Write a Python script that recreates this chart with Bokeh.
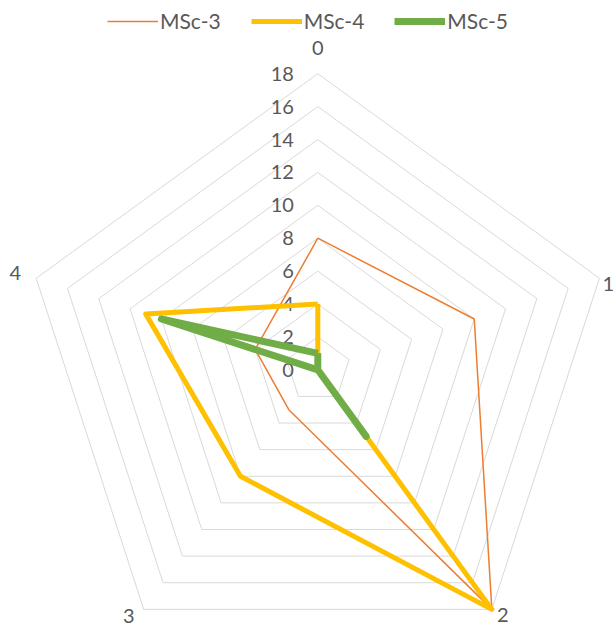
import math
from bokeh.plotting import figure
from bokeh.models import Range1d, Legend, LegendItem
from bokeh.core.properties import value
from bokeh.embed import file_html
from bokeh.resources import INLINE

categories = ["0", "1", "2", "3", "4"]
series_names = ["MSc-3", "MSc-4", "MSc-5"]
msc3 = [8, 10, 18, 3, 4]
msc4 = [4, 0, 18, 8, 11]
msc5 = [1, 0, 5, 0, 10]
ticks = [0, 2, 4, 6, 8, 10, 12, 14, 16, 18]
r_max = 18

FONT = "Lato"
TXT = "#595959"
W, H = 615, 628
PX = 16.45  # pixels per unit
cx_px, cy_px = 317.3, 369.3

n = len(categories)
ang = [math.pi / 2 - 2 * math.pi * k / n for k in range(n)]


def to_xy(vals):
    xs = [v * math.cos(a) for v, a in zip(vals, ang)]
    ys = [v * math.sin(a) for v, a in zip(vals, ang)]
    return xs + xs[:1], ys + ys[:1]


p = figure(width=W, height=H, output_backend="svg", toolbar_location=None,
           x_range=Range1d(-cx_px / PX, (W - cx_px) / PX),
           y_range=Range1d(-(H - cy_px) / PX, cy_px / PX),
           min_border=0, outline_line_color=None)
p.axis.visible = False
p.grid.visible = False
p.background_fill_color = "white"
p.border_fill_color = "white"

# grid rings
ring_xs, ring_ys = [], []
for t in ticks[1:]:
    xs, ys = to_xy([t] * n)
    ring_xs.append(xs)
    ring_ys.append(ys)
p.multi_line(ring_xs, ring_ys, line_color="#D9D9D9", line_width=1)

# tick labels
p.text(x=[-1.45] * len(ticks), y=ticks, text=[str(t) for t in ticks],
       text_font=value(FONT), text_font_size="20px", text_color=TXT,
       text_align="right", text_baseline="middle")

# category labels
cx, cy = to_xy([r_max] * n)
offs = [(0, -26), (9, 6), (11, 6), (-15, 7), (-21, -5)]
for k, c in enumerate(categories):
    p.text(x=[cx[k]], y=[cy[k]], text=[c], x_offset=offs[k][0], y_offset=offs[k][1],
           text_font=value(FONT), text_font_size="20px", text_color=TXT,
           text_align="center", text_baseline="middle")

styles = [("#ED7D31", 1.5), ("#FFC000", 5), ("#70AD47", 7)]
renderers = []
for vals, (col, lw) in zip([msc3, msc4, msc5], styles):
    xs, ys = to_xy(vals)
    r = p.line(xs, ys, line_color=col, line_width=lw, line_join="round")
    renderers.append(r)

legend = Legend(items=[LegendItem(label=nm, renderers=[r]) for nm, r in zip(series_names, renderers)],
                orientation="horizontal", location=(105, 593),
                glyph_width=51, glyph_height=20, label_standoff=2, spacing=30,
                padding=2, margin=0,
                label_text_font=FONT, label_text_font_size="21px", label_text_color=TXT,
                border_line_alpha=0, background_fill_alpha=0)
p.add_layout(legend)

open("out.html", "w").write(file_html(p, INLINE))
